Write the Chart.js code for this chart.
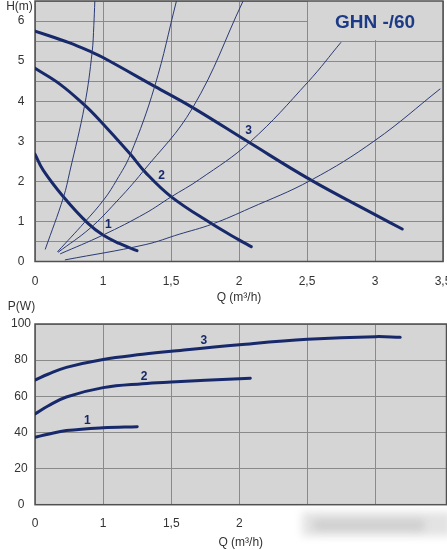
<!DOCTYPE html>
<html>
<head>
<meta charset="utf-8">
<title>GHN -/60</title>
<script src="https://cdn.jsdelivr.net/npm/chart.js@4.4.0/dist/chart.umd.min.js"></script>
<style>
  html, body { margin: 0; padding: 0; background: #fff; }
  #wrap { position: relative; width: 447px; height: 550px; overflow: hidden; }
  #headChart { position: absolute; left: 0; top: 0; }
  #powerChart { position: absolute; left: 0; top: 300px; }
</style>
</head>
<body>
<div id="wrap">
  <canvas id="headChart" width="447" height="310"></canvas>
  <canvas id="powerChart" width="447" height="250"></canvas>
</div>
<script>
// x axis: the grid is evenly spaced but labelled 0, 1, 1,5, 2 ...
const qTickLabels = ['0', '1', '1,5', '2', '2,5', '3', '3,5'];
const powerTickLabels = ['0', '1', '1,5', '2'];

// H(Q) pump curves, speeds 1..3 (Q in m3/h, H in m)
const head1Q = [0, 0.12, 0.42, 0.78, 1.0, 1.12, 1.25];
const head1H = [2.68, 2.28, 1.61, 0.95, 0.66, 0.45, 0.27];
const head2Q = [0, 0.37, 0.73, 0.93, 1.2, 1.31, 1.5, 1.8, 2.0, 2.09];
const head2H = [4.82, 4.42, 3.90, 3.56, 2.68, 2.23, 1.62, 0.94, 0.54, 0.37];
const head3Q = [0, 0.5, 0.84, 1.0, 1.38, 1.66, 2.07, 2.53, 3.0, 3.2];
const head3H = [5.75, 5.46, 5.22, 5.09, 4.37, 3.84, 2.98, 2.03, 1.17, 0.81];

// system curves (thin lines)
const sys1Q = [0.15, 0.42, 0.51, 0.73, 0.84, 0.865, 0.88];
const sys1H = [0.30, 1.61, 2.23, 3.90, 5.22, 5.89, 6.5];
const sys2Q = [0.33, 0.73, 1.01, 1.10, 1.20, 1.38, 1.54];
const sys2H = [0.24, 0.98, 1.56, 2.03, 2.66, 4.37, 6.5];
const sys3Q = [0.34, 0.81, 1.09, 1.29, 1.66, 2.03];
const sys3H = [0.23, 0.83, 1.46, 2.23, 3.84, 6.5];
const sys4Q = [0.37, 1.0, 1.31, 1.5, 1.71, 2.08, 2.51, 2.75];
const sys4H = [0.19, 0.66, 1.20, 1.61, 2.05, 2.98, 4.49, 5.47];
const sys5Q = [0.44, 1.31, 1.56, 1.8, 2.08, 2.53, 3.0, 3.48];
const sys5H = [0.04, 0.42, 0.68, 0.93, 1.33, 2.03, 3.02, 4.31];

// P(Q) power curves (W)
const power1Q = [0, 0.19, 0.46, 1.0, 1.25];
const power1W = [37.3, 39.0, 41.0, 42.6, 43.2];
const power2Q = [0, 0.19, 0.46, 1.0, 1.29, 1.5, 2.0, 2.08];
const power2W = [50.2, 54.6, 59.6, 64.8, 67.0, 67.9, 69.7, 70.0];
const power3Q = [0, 0.19, 0.46, 1.0, 1.29, 1.5, 2.0, 2.5, 3.0, 3.18];
const power3W = [69.0, 72.2, 76.0, 80.4, 83.2, 84.9, 88.5, 91.5, 93.0, 92.6];

const plotBg = '#d5d5d5';
const gridColor = '#8a8a8a';
const curveColor = '#17296a';
const thinColor = '#2a3a74';
const textColor = '#333';
const fontFamily = '"Liberation Sans", Arial, sans-serif';

// first unit is as wide as each half unit after it
function qToAxis(q) {
  return q <= 1 ? q : 1 + (q - 1) * 2;
}

function points(qs, vs) {
  return qs.map((q, i) => ({ x: qToAxis(q), y: vs[i] }));
}

function thick(qs, vs) {
  return {
    data: points(qs, vs),
    borderColor: curveColor,
    borderWidth: 3,
    pointRadius: 0,
    tension: 0.4,
    borderCapStyle: 'round'
  };
}

function thin(qs, vs) {
  return {
    data: points(qs, vs),
    borderColor: thinColor,
    borderWidth: 1,
    pointRadius: 0,
    tension: 0.4
  };
}

const framePlugin = {
  id: 'frame',
  beforeDraw(chart) {
    const { ctx, chartArea: a } = chart;
    ctx.save();
    ctx.fillStyle = plotBg;
    ctx.fillRect(a.left, a.top, a.right - a.left, a.bottom - a.top);
    ctx.restore();
  },
  beforeDatasetsDraw(chart, args, opts) {
    const { ctx, chartArea: a, scales } = chart;
    ctx.save();
    if (opts.box) {
      const x0 = scales.x.getPixelForValue(qToAxis(opts.box.q)) + 1;
      const y1 = scales.y.getPixelForValue(opts.box.v) - 1;
      ctx.fillStyle = plotBg;
      ctx.fillRect(x0, a.top, a.right - x0, y1 - a.top);
    }
    ctx.strokeStyle = '#505050';
    ctx.lineWidth = 1.5;
    ctx.strokeRect(a.left, a.top, a.right - a.left, a.bottom - a.top);
    ctx.restore();
  },
  afterDraw(chart, args, opts) {
    const { ctx, scales } = chart;
    ctx.save();
    ctx.textAlign = 'center';
    ctx.textBaseline = 'middle';
    (opts.notes || []).forEach(n => {
      ctx.font = n.font;
      ctx.fillStyle = n.color;
      const x = n.q !== undefined ? scales.x.getPixelForValue(qToAxis(n.q)) : n.px;
      const y = n.v !== undefined ? scales.y.getPixelForValue(n.v) : n.py;
      ctx.fillText(n.text, x, y);
    });
    if (opts.smudge) {
      const s = opts.smudge;
      ctx.filter = 'blur(4px)';
      ctx.fillStyle = '#e3e3e3';
      ctx.fillRect(s.x, s.y, s.w, s.h);
      ctx.fillStyle = '#cdcdcd';
      ctx.fillRect(s.x + 12, s.y + 8, s.w - 40, s.h - 14);
      ctx.filter = 'none';
    }
    ctx.restore();
  }
};

const tickFont = { family: fontFamily, size: 12 };
const labelFont = 'bold 12px ' + fontFamily;

function xScale(max, labels, height, tickPad, titlePad, hideLast) {
  return {
    type: 'linear',
    min: 0,
    max: max,
    ticks: {
      stepSize: 1,
      autoSkip: false,
      includeBounds: false,
      maxRotation: 0,
      padding: tickPad,
      color: textColor,
      font: tickFont,
      callback: v => labels[v] !== undefined ? labels[v] : ''
    },
    grid: {
      drawTicks: false,
      lineWidth: 1,
      color: c => (hideLast && c.tick && c.tick.value > 5.5) ? 'rgba(0,0,0,0)' : gridColor
    },
    border: { display: false },
    title: {
      display: true,
      text: 'Q (m³/h)',
      color: textColor,
      font: tickFont,
      padding: { top: 0, bottom: titlePad }
    },
    afterFit: s => {
      s.height = height;
      s.paddingLeft = 0;
      s.paddingRight = 0;
    }
  };
}

function yScale(max, step, labelEvery, tickPad) {
  return {
    min: 0,
    max: max,
    ticks: {
      stepSize: step,
      autoSkip: false,
      includeBounds: false,
      padding: tickPad,
      crossAlign: 'center',
      color: textColor,
      font: tickFont,
      callback: v => Math.abs(v / labelEvery - Math.round(v / labelEvery)) < 1e-6 ? String(v) : ''
    },
    grid: { drawTicks: false, lineWidth: 1, color: gridColor },
    border: { display: false },
    afterFit: s => {
      s.width = 35;
      s.paddingTop = 0;
      s.paddingBottom = 0;
    }
  };
}

const common = {
  responsive: false,
  animation: false,
  events: [],
  plugins: { legend: { display: false }, tooltip: { enabled: false } }
};

new Chart(document.getElementById('headChart'), {
  type: 'line',
  data: {
    datasets: [
      thin(sys1Q, sys1H), thin(sys2Q, sys2H), thin(sys3Q, sys3H),
      thin(sys4Q, sys4H), thin(sys5Q, sys5H),
      thick(head1Q, head1H), thick(head2Q, head2H), thick(head3Q, head3H)
    ]
  },
  options: {
    ...common,
    layout: { padding: { top: 1, right: 4, left: 0, bottom: 0 } },
    scales: {
      x: xScale(6, qTickLabels, 48.5, 13, 5, false),
      y: yScale(6.5, 0.5, 1, 10.5)
    },
    plugins: {
      ...common.plugins,
      frame: {
        box: { q: 2.5, v: 5.5 },
        notes: [
          { text: 'H(m)', px: 19.5, py: 7, font: '12px ' + fontFamily, color: textColor },
          { text: '1', q: 1.04, v: 0.93, font: labelFont, color: curveColor },
          { text: '2', q: 1.43, v: 2.13, font: labelFont, color: curveColor },
          { text: '3', q: 2.07, v: 3.27, font: labelFont, color: curveColor },
          { text: 'GHN -/60', q: 3.0, v: 5.96, font: 'bold 19px ' + fontFamily, color: '#1d3a86' }
        ]
      }
    }
  },
  plugins: [framePlugin]
});

new Chart(document.getElementById('powerChart'), {
  type: 'line',
  data: {
    datasets: [
      thick(power1Q, power1W), thick(power2Q, power2W), thick(power3Q, power3W)
    ]
  },
  options: {
    ...common,
    layout: { padding: { top: 24, right: 0.5, left: 0, bottom: 0 } },
    scales: {
      x: xScale(6.04, powerTickLabels, 45.3, 12, 0, true),
      y: yScale(100, 20, 20, 4)
    },
    plugins: {
      ...common.plugins,
      frame: {
        notes: [
          { text: 'P(W)', px: 21.5, py: 7, font: '12px ' + fontFamily, color: textColor },
          { text: '1', q: 0.77, v: 46.7, font: labelFont, color: curveColor },
          { text: '2', q: 1.30, v: 70.7, font: labelFont, color: curveColor },
          { text: '3', q: 1.74, v: 90.8, font: labelFont, color: curveColor }
        ],
        smudge: { x: 302, y: 212, w: 150, h: 24 }
      }
    }
  },
  plugins: [framePlugin]
});
</script>
</body>
</html>
